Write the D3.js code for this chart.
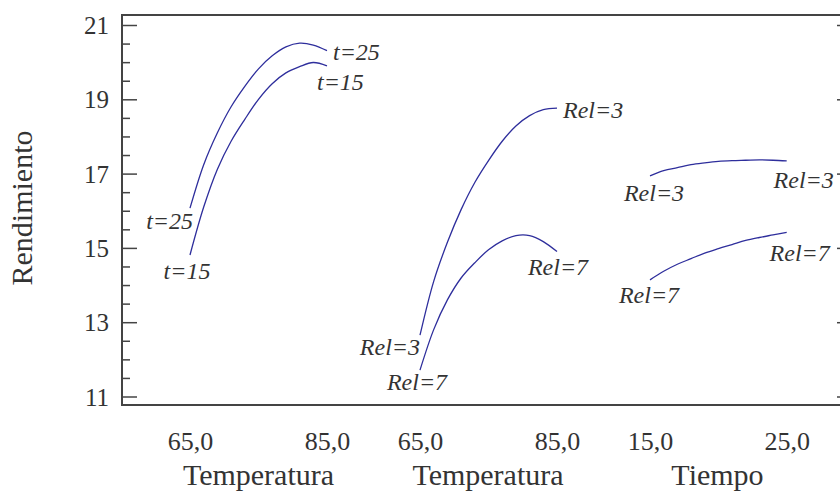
<!DOCTYPE html>
<html>
<head>
<meta charset="utf-8">
<script src="https://cdn.jsdelivr.net/npm/d3@7"></script>
<style>
  html, body { margin: 0; padding: 0; background: #fff; }
  svg { display: block; }
  text { font-family: "Liberation Serif", "Times New Roman", serif; fill: #333; }
</style>
</head>
<body>
<svg id="chart" width="840" height="492"></svg>
<script>
// ---------- data ----------
const tempLevels = [65, 67, 69, 71, 73, 75, 77, 79, 81, 83, 85];
const timeLevels = [15, 16, 17, 18, 19, 20, 21, 22, 23, 24, 25];

// Panel 1: Rendimiento vs Temperatura, by Tiempo
const temp_t15 = [14.81, 16.10, 17.12, 17.87, 18.46, 19.00, 19.42, 19.71, 19.88, 19.99, 19.90];
const temp_t25 = [16.07, 17.24, 18.10, 18.80, 19.35, 19.82, 20.17, 20.41, 20.51, 20.46, 20.31];

// Panel 2: Rendimiento vs Temperatura, by Rel
const temp_rel3 = [12.65, 14.10, 15.15, 16.03, 16.76, 17.35, 17.87, 18.28, 18.56, 18.72, 18.76];
const temp_rel7 = [11.71, 12.80, 13.60, 14.19, 14.60, 14.95, 15.19, 15.33, 15.33, 15.17, 14.90];

// Panel 3: Rendimiento vs Tiempo, by Rel
const time_rel3 = [16.94, 17.08, 17.16, 17.24, 17.29, 17.33, 17.35, 17.36, 17.37, 17.36, 17.34];
const time_rel7 = [14.14, 14.37, 14.56, 14.71, 14.86, 14.98, 15.09, 15.20, 15.28, 15.35, 15.42];

const yTicks = [11, 13, 15, 17, 19, 21];
const tempTicks = [65, 85];
const timeTicks = [15, 25];
const yTitle = "Rendimiento";
const xTitles = ["Temperatura", "Temperatura", "Tiempo"];

// ---------- layout ----------
const svg = d3.select("#chart");
const frame = { left: 122, top: 15, right: 842, bottom: 405 };

const y = d3.scaleLinear().domain([11, 21]).range([396.5, 25]);
const x1 = d3.scaleLinear().domain([65, 85]).range([190, 327]);
const x2 = d3.scaleLinear().domain([65, 85]).range([420, 557]);
const x3 = d3.scaleLinear().domain([15, 25]).range([650, 786.7]);

const lineColor = "#2e2e9c";
const axisColor = "#444";
const fmt = d => d3.format(".1f")(d).replace(".", ",");

// frame
svg.append("rect")
  .attr("x", frame.left).attr("y", frame.top)
  .attr("width", frame.right - frame.left).attr("height", frame.bottom - frame.top)
  .attr("fill", "none").attr("stroke", axisColor).attr("stroke-width", 2);

// left axis: minor ticks
const minorTicks = d3.range(11.5, 21, 0.5).filter(v => !yTicks.includes(v));
const gMinor = svg.append("g").attr("transform", `translate(${frame.left},0)`)
  .call(d3.axisLeft(y).tickValues(minorTicks).tickSizeInner(-8).tickSizeOuter(0).tickFormat(""));
gMinor.select(".domain").remove();
gMinor.selectAll("line").attr("stroke", axisColor).attr("stroke-width", 1.5);

// left axis: major ticks
const gY = svg.append("g").attr("transform", `translate(${frame.left},0)`)
  .call(d3.axisLeft(y).tickValues(yTicks).tickSizeInner(-15).tickSizeOuter(0).tickPadding(13).tickFormat(d3.format("d")));
gY.select(".domain").remove();
gY.selectAll("line").attr("stroke", axisColor).attr("stroke-width", 1.5);
gY.selectAll("text").attr("font-size", 25).attr("fill", "#333")
  .attr("font-family", "Liberation Serif, serif").attr("dy", "0.34em");

// right axis ticks
const gR = svg.append("g").attr("transform", `translate(${frame.right},0)`)
  .call(d3.axisRight(y).tickValues(yTicks).tickSizeInner(-5).tickSizeOuter(0).tickFormat(""));
gR.select(".domain").remove();
gR.selectAll("line").attr("stroke", axisColor).attr("stroke-width", 1.5);

// bottom axes (labels only)
function bottomAxis(scale, ticks) {
  const g = svg.append("g").attr("transform", `translate(0,${frame.bottom})`)
    .call(d3.axisBottom(scale).tickValues(ticks).tickSize(0).tickFormat(fmt));
  g.select(".domain").remove();
  g.selectAll("line").remove();
  g.selectAll("text").attr("y", 45).attr("dy", 0).attr("font-size", 26)
    .attr("fill", "#333").attr("font-family", "Liberation Serif, serif");
}
bottomAxis(x1, tempTicks);
bottomAxis(x2, tempTicks);
bottomAxis(x3, timeTicks);

// axis titles
const titleX = [258.5, 488, 717.5];
xTitles.forEach((t, i) => {
  svg.append("text").attr("x", titleX[i]).attr("y", 485)
    .attr("text-anchor", "middle").attr("font-size", 30).text(t);
});
svg.append("text")
  .attr("transform", "translate(32,208) rotate(-90)")
  .attr("text-anchor", "middle").attr("font-size", 30).text(yTitle);

// lines
const panels = [
  { x: x1, levels: tempLevels, series: [temp_t25, temp_t15] },
  { x: x2, levels: tempLevels, series: [temp_rel3, temp_rel7] },
  { x: x3, levels: timeLevels, series: [time_rel3, time_rel7] }
];
panels.forEach(p => {
  const line = d3.line().x((d, i) => p.x(p.levels[i])).y(d => y(d)).curve(d3.curveCatmullRom.alpha(0.5));
  p.series.forEach(s => {
    svg.append("path").attr("d", line(s)).attr("fill", "none")
      .attr("stroke", lineColor).attr("stroke-width", 1.3);
  });
});

// curve labels: [scale, levels, values, end, text, anchor, dx, dy]
const labels = [
  [x1, tempLevels, temp_t25, "first", "t=25", "end", 3, 21],
  [x1, tempLevels, temp_t15, "first", "t=15", "middle", -3, 24],
  [x1, tempLevels, temp_t25, "last", "t=25", "start", 6, 9],
  [x1, tempLevels, temp_t15, "last", "t=15", "start", -10, 24],
  [x2, tempLevels, temp_rel3, "first", "Rel=3", "end", 0, 20],
  [x2, tempLevels, temp_rel7, "first", "Rel=7", "middle", -3, 20],
  [x2, tempLevels, temp_rel3, "last", "Rel=3", "start", 6, 10],
  [x2, tempLevels, temp_rel7, "last", "Rel=7", "middle", 1, 23],
  [x3, timeLevels, time_rel3, "first", "Rel=3", "middle", 4, 25],
  [x3, timeLevels, time_rel7, "first", "Rel=7", "middle", -1, 23],
  [x3, timeLevels, time_rel3, "last", "Rel=3", "middle", 17, 27],
  [x3, timeLevels, time_rel7, "last", "Rel=7", "middle", 13, 29]
];
labels.forEach(([sx, lv, vals, end, txt, anchor, dx, dy]) => {
  const i = end === "first" ? 0 : vals.length - 1;
  svg.append("text")
    .attr("x", sx(lv[i]) + dx).attr("y", y(vals[i]) + dy)
    .attr("text-anchor", anchor).attr("font-size", 24).attr("font-style", "italic")
    .text(txt);
});
</script>
</body>
</html>
